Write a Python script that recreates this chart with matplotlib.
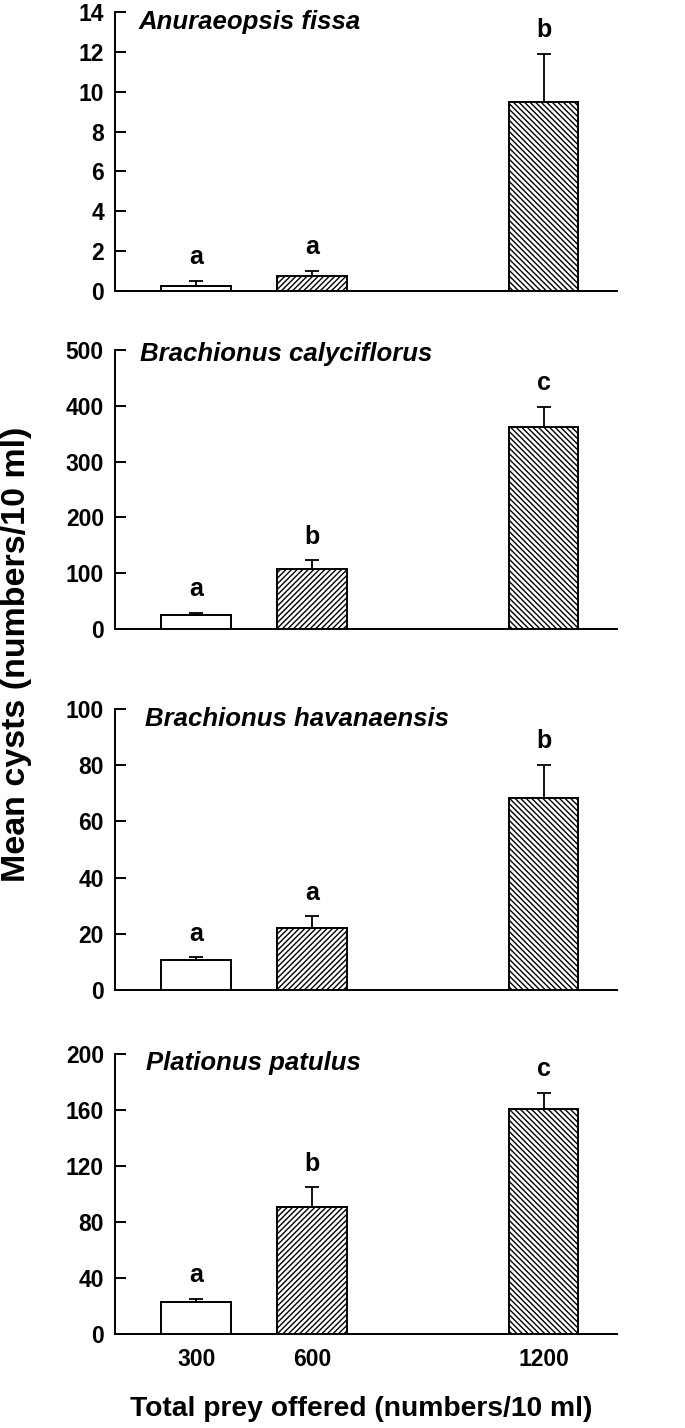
import matplotlib
matplotlib.use("Agg")
from matplotlib import pyplot as plt
import numpy as np

plt.rcParams['font.family'] = ['Liberation Sans', 'DejaVu Sans']
plt.rcParams['font.weight'] = 'bold'
plt.rcParams['hatch.linewidth'] = 1.0

# prey offered (numbers/10 ml)
prey = [300, 600, 1200]
hatches = ['', '//////', '\\\\\\\\\\\\']

species = ['Anuraeopsis fissa', 'Brachionus calyciflorus',
           'Brachionus havanaensis', 'Plationus patulus']

af_mean = [0.25, 0.77, 9.5]
af_err = [0.25, 0.25, 2.4]
af_let = ['a', 'a', 'b']

bc_mean = [25, 108, 362]
bc_err = [4.6, 15, 36]
bc_let = ['a', 'b', 'c']

bh_mean = [10.8, 21.9, 68.3]
bh_err = [0.8, 4.4, 11.8]
bh_let = ['a', 'a', 'b']

pp_mean = [23, 90.5, 160.5]
pp_err = [2, 14.3, 11.6]
pp_let = ['a', 'b', 'c']

ylims = [14, 500, 100, 200]
ysteps = [2, 100, 20, 40]

means = [af_mean, bc_mean, bh_mean, pp_mean]
errs = [af_err, bc_err, bh_err, pp_err]
letters = [af_let, bc_let, bh_let, pp_let]

# axes boxes in figure fraction, top to bottom
bottoms = [0.7962, 0.5595, 0.3067, 0.0658]
heights = [0.1954, 0.1954, 0.1968, 0.1961]
title_pos = [(0.046, 0.965), (0.050, 0.985), (0.060, 0.965), (0.062, 0.968)]

fig = plt.figure(figsize=(6.85, 14.28), dpi=100)

for i in range(4):
    ax = fig.add_axes([0.1679, bottoms[i], 0.733, heights[i]])
    for j in range(3):
        ax.bar(prey[j], means[i][j], width=180, color='white',
               edgecolor='black', linewidth=1.4, hatch=hatches[j], zorder=2)
    ax.errorbar(prey, means[i], yerr=[np.zeros(3), errs[i]], fmt='none',
                ecolor='black', elinewidth=1.3, capsize=5, capthick=1.3,
                zorder=3)
    for j in range(3):
        ax.annotate(letters[i][j], (prey[j], means[i][j] + errs[i][j]),
                    xytext=(0, 17), textcoords='offset points',
                    ha='center', va='center', fontsize=18, fontweight='bold')
    ax.set_xlim(90, 1390)
    ax.set_ylim(0, ylims[i])
    ax.set_yticks(np.arange(0, ylims[i] + 1e-9, ysteps[i]))
    ax.set_yticklabels([str(int(v)) for v in np.arange(0, ylims[i] + 1e-9, ysteps[i])])
    ax.spines['top'].set_visible(False)
    ax.spines['right'].set_visible(False)
    ax.spines['left'].set_linewidth(1.4)
    ax.spines['bottom'].set_linewidth(1.4)
    ax.tick_params(axis='y', direction='in', length=8, width=1.4,
                   labelsize=16.5, pad=8)
    ax.text(title_pos[i][0], title_pos[i][1], species[i],
            transform=ax.transAxes, ha='left', va='center',
            fontsize=18.5, fontweight='bold', style='italic')
    if i == 3:
        ax.set_xticks(prey)
        ax.set_xticklabels([str(p) for p in prey])
        ax.tick_params(axis='x', length=0, labelsize=16.5, pad=10)
    else:
        ax.set_xticks([])

fig.text(0.024, 0.542, 'Mean cysts (numbers/10 ml)', rotation=90,
         ha='center', va='center', fontsize=24.5, fontweight='bold')
fig.text(0.528, 0.0133, 'Total prey offered (numbers/10 ml)',
         ha='center', va='center', fontsize=20.3, fontweight='bold')

fig.savefig('out.png', dpi=100)
